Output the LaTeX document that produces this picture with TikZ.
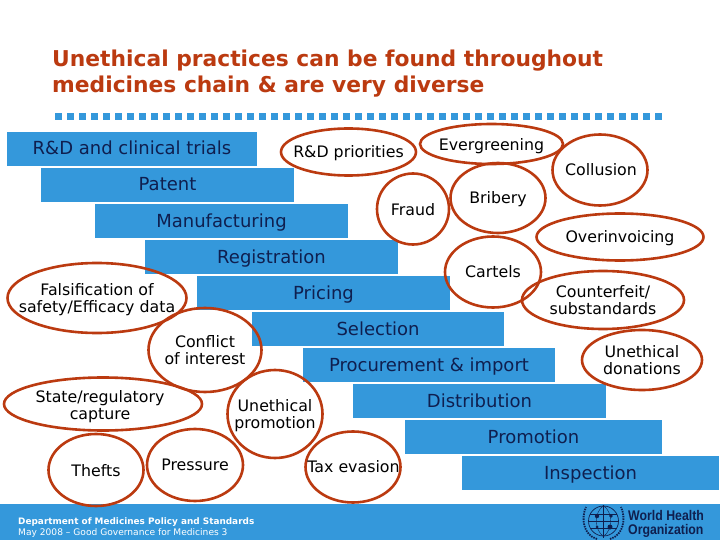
\documentclass[tikz,border=0pt]{standalone}
\usepackage{fontspec}
\setmainfont{DejaVu Sans}
\newfontfamily\whofont{Liberation Sans}
\definecolor{whoblue}{HTML}{3498DB}
\definecolor{whored}{HTML}{BB3A10}
\definecolor{whonavy}{HTML}{0F1F4F}
\usetikzlibrary{shapes.geometric}
\tikzset{
  stagebar/.style={fill=whoblue, text=whonavy, minimum height=34.5pt, inner sep=0pt, text height=13pt, text depth=1pt, font=\fontsize{18}{20}\selectfont},
  issue/.style={ellipse, draw=whored, line width=2.6pt, inner sep=0pt},
  issuetext/.style={inner sep=0pt, align=center, text=black, font=\fontsize{15.8}{17}\selectfont},
}
\begin{document}
\begin{tikzpicture}[x=1pt, y=-1pt]
\useasboundingbox (0,0) rectangle (720,540);
\fill[white] (0,0) rectangle (720,540);
% title
\node[anchor=west, inner sep=0pt, text=whored, align=left, font=\fontsize{21.8}{26}\bfseries\selectfont] (title) at (52,74) {Unethical practices can be found throughout\\medicines chain \& are very diverse};
% dotted rule
\foreach \i in {0,...,50} {
  \fill[whoblue] ({55+\i*12},113) rectangle ++(7,7);
}
% chain of stages
\node[stagebar, minimum width=250pt] (rnd) at (132,149) {R\&D and clinical trials};
\node[stagebar, minimum width=253pt] (patent) at (167.5,185) {Patent};
\node[stagebar, minimum width=253pt] (manuf) at (221.5,221) {Manufacturing};
\node[stagebar, minimum width=253pt] (regist) at (271.5,257) {Registration};
\node[stagebar, minimum width=253pt] (pricing) at (323.5,293) {Pricing};
\node[stagebar, minimum width=252pt] (select) at (378,329) {Selection};
\node[stagebar, minimum width=252pt] (procure) at (429,365) {Procurement \& import};
\node[stagebar, minimum width=253pt] (distrib) at (479.5,401) {Distribution};
\node[stagebar, minimum width=257pt] (promotion) at (533.5,437) {Promotion};
\node[stagebar, minimum width=257pt] (inspect) at (590.5,473) {Inspection};
% footer
\fill[whoblue] (0,504) rectangle (720,540);
\node[anchor=west, inner sep=0pt, text=white, font=\fontsize{8.9}{10}\bfseries\selectfont] (dept) at (18,522.5) {Department of Medicines Policy and Standards};
\node[anchor=west, inner sep=0pt, text=white, font=\fontsize{9.1}{10}\selectfont] (date) at (18,532.5) {May 2008 – Good Governance for Medicines 3};
% issues
\node[issue, minimum width=135pt, minimum height=47pt] (priorities) at (348.5,152) {};
\node[issue, minimum width=143pt, minimum height=40pt] (evergreen) at (491.5,144) {};
\node[issue, minimum width=95pt, minimum height=71pt] (collusion) at (600,170) {};
\node[issue, minimum width=72pt, minimum height=71pt] (fraud) at (413,209) {};
\node[issue, minimum width=95pt, minimum height=70pt] (bribery) at (498,198) {};
\node[issue, minimum width=167pt, minimum height=47pt] (overinv) at (620,237) {};
\node[issue, minimum width=96pt, minimum height=71pt] (cartels) at (493,272) {};
\node[issue, minimum width=162pt, minimum height=58pt] (counter) at (603,300) {};
\node[issue, minimum width=120pt, minimum height=60pt] (donations) at (642,360) {};
\node[issue, minimum width=179pt, minimum height=70pt] (falsif) at (97,298) {};
\node[issue, minimum width=113pt, minimum height=84pt] (conflict) at (205,350) {};
\node[issue, minimum width=198pt, minimum height=53pt] (state) at (103,404) {};
\node[issue, minimum width=95pt, minimum height=88pt] (promo) at (275,414) {};
\node[issue, minimum width=95pt, minimum height=72pt] (thefts) at (96,470) {};
\node[issue, minimum width=96pt, minimum height=72pt] (pressure) at (195,465) {};
\node[issue, minimum width=95pt, minimum height=71pt] (taxev) at (353,467) {};
% issue labels
\node[issuetext, anchor=base] (prioritiestext) at (348.5,158) {R\&D priorities};
\node[issuetext, anchor=base] (evergreentext) at (491.5,151) {Evergreening};
\node[issuetext, anchor=base] (collusiontext) at (601,176) {Collusion};
\node[issuetext, anchor=base] (fraudtext) at (413,215) {Fraud};
\node[issuetext, anchor=base] (briberytext) at (498,204) {Bribery};
\node[issuetext, anchor=base] (overinvtext) at (620,243) {Overinvoicing};
\node[issuetext, anchor=base] (cartelstext) at (493,277) {Cartels};
\node[issuetext] (countertext) at (603,300.5) {Counterfeit/\\substandards};
\node[issuetext] (donationstext) at (642,360) {Unethical\\donations};
\node[issuetext] (falsiftext) at (97,299.5) {Falsification of\\safety/Efficacy data};
\node[issuetext] (conflicttext) at (205,350) {Conflict\\of interest};
\node[issuetext] (statetext) at (100,407) {State/regulatory\\capture};
\node[issuetext] (promotext) at (275,416) {Unethical\\promotion};
\node[issuetext, anchor=base] (theftstext) at (96,476) {Thefts};
\node[issuetext, anchor=base] (pressuretext) at (195,470) {Pressure};
\node[issuetext, anchor=base] (taxevtext) at (353.5,472) {Tax evasion};
% logo
\node[anchor=west, xscale=0.88, text=whonavy, align=left, inner sep=0pt, font=\whofont\fontsize{14}{13.5}\bfseries\selectfont] (who) at (628,524) {World Health\\Organization};
\node[circle, draw=whonavy, line width=0.7pt, minimum size=30pt, inner sep=0pt] (emblem) at (603.5,521) {};
\draw[whonavy, line width=0.4pt] (emblem.west) -- (emblem.east);
\draw[whonavy, line width=0.4pt] (590,514) -- (617,514);
\draw[whonavy, line width=0.4pt] (590,528) -- (617,528);
\draw[whonavy, line width=0.4pt] (emblem.north) .. controls (594,512) and (594,530) .. (emblem.south);
\draw[whonavy, line width=0.4pt] (emblem.north) .. controls (613,512) and (613,530) .. (emblem.south);
\draw[whonavy, line width=1.3pt] (603.5,505) -- (603.5,538);
\fill[whonavy] (597,516) circle (2.2) (610,527) circle (2.5) (611,516) circle (1.8) (597,527) circle (1.5);
\draw[whonavy, line width=1.8pt, dash pattern=on 1.5pt off 1pt] (597,539) .. controls (583,535) and (581,518) .. (586,507);
\draw[whonavy, line width=1.8pt, dash pattern=on 1.5pt off 1pt] (610,539) .. controls (624,535) and (626,518) .. (621,507);
\end{tikzpicture}
\end{document}
